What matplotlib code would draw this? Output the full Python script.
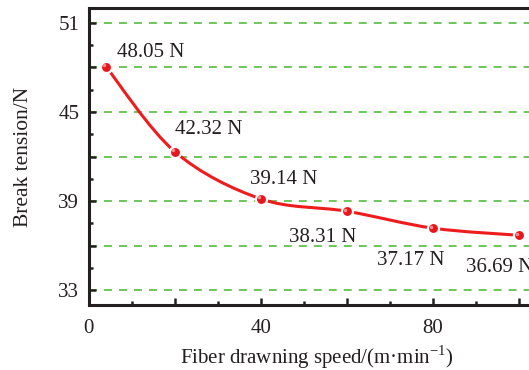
import matplotlib.pyplot as plt
from matplotlib.path import Path
from matplotlib.patches import PathPatch
from matplotlib.ticker import MultipleLocator, FuncFormatter
from matplotlib.transforms import offset_copy

plt.rcParams['font.family'] = ['Liberation Serif', 'DejaVu Serif']
plt.rcParams['mathtext.fontset'] = 'custom'
plt.rcParams['mathtext.rm'] = 'Liberation Serif'

# data
speed = [4, 20, 40, 60, 80, 100]
tension = [48.05, 42.32, 39.14, 38.31, 37.17, 36.69]
labels = ['48.05 N', '42.32 N', '39.14 N', '38.31 N', '37.17 N', '36.69 N']
label_offsets = [(8, 10), (0, 16), (-8, 14), (-42, -19), (-40, -23), (-38, -23)]

fig = plt.figure(figsize=(5.29, 3.70), dpi=100)
ax = fig.add_axes([0.168, 0.176, 0.862, 0.802])

# smooth curve through the points (Catmull-Rom as cubic bezier)
verts = [(speed[0], tension[0])]
codes = [Path.MOVETO]
n = len(speed)
for i in range(n - 1):
    p0 = (speed[max(i - 1, 0)], tension[max(i - 1, 0)])
    p1 = (speed[i], tension[i])
    p2 = (speed[i + 1], tension[i + 1])
    p3 = (speed[min(i + 2, n - 1)], tension[min(i + 2, n - 1)])
    c1 = (p1[0] + (p2[0] - p0[0]) / 6, p1[1] + (p2[1] - p0[1]) / 6)
    c2 = (p2[0] - (p3[0] - p1[0]) / 6, p2[1] - (p3[1] - p1[1]) / 6)
    verts += [c1, c2, p2]
    codes += [Path.CURVE4] * 3
ax.add_patch(PathPatch(Path(verts, codes), facecolor='none', edgecolor='#ee1c1c', lw=2.2, zorder=3))

ax.plot(speed, tension, linestyle='none', marker='o', markersize=8,
        markerfacecolor='#e8161c', markeredgecolor='white', markeredgewidth=1.6, zorder=4)
# small highlight on the sphere markers
hl = offset_copy(ax.transData, fig=fig, x=-1.2, y=1.2, units='points')
ax.plot(speed, tension, linestyle='none', marker='o', markersize=2.5,
        markerfacecolor='#ff8a8a', markeredgewidth=0, transform=hl, zorder=5)

for x, y, t, off in zip(speed, tension, labels, label_offsets):
    ax.annotate(t, (x, y), xytext=off, textcoords='offset points',
                fontsize=15, color='#231f20', ha='left', va='center')

ax.set_xlim(0, 106)
ax.set_ylim(32, 52)
ax.xaxis.set_major_locator(MultipleLocator(20))
ax.xaxis.set_minor_locator(MultipleLocator(10))
ax.xaxis.set_major_formatter(FuncFormatter(lambda v, p: f'{v:.0f}' if v % 40 == 0 else ''))
ax.yaxis.set_major_locator(MultipleLocator(3))
ax.yaxis.set_minor_locator(MultipleLocator(1.5))
ax.yaxis.set_major_formatter(FuncFormatter(lambda v, p: f'{v:.0f}' if (v - 33) % 6 == 0 else ''))

ax.tick_params(which='both', direction='in', width=1.8, labelsize=15, colors='#231f20')
ax.tick_params(which='major', length=5)
ax.tick_params(which='minor', length=3)
ax.tick_params(axis='x', pad=10)
ax.tick_params(axis='y', pad=7)

for s in ax.spines.values():
    s.set_linewidth(2.2)
    s.set_color('#231f20')

ax.grid(True, axis='y', which='major', color='#62c04e', linestyle=(0, (4.4, 3.9)), lw=1.3)

ax.set_xlabel('Fiber drawning speed/(m·min$^{-1}$)', fontsize=15, color='#231f20', labelpad=4)
ax.set_ylabel('Break tension/N', fontsize=15.5, color='#231f20', labelpad=18)

plt.savefig('out.png', dpi=100)
